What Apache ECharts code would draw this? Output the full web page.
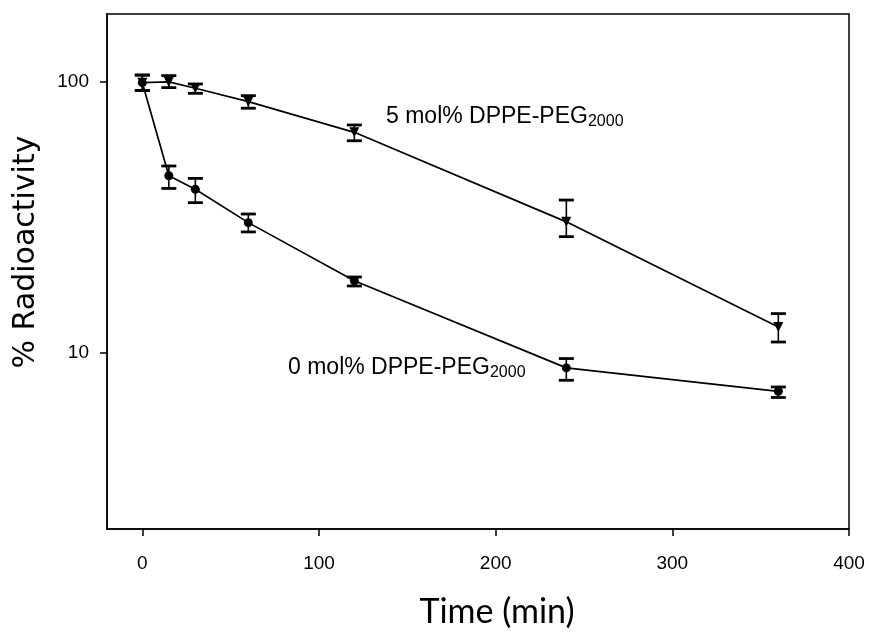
<!DOCTYPE html>
<html>
<head>
<meta charset="utf-8">
<script src="https://cdn.jsdelivr.net/npm/echarts@6/dist/echarts.min.js"></script>
<style>
html,body{margin:0;padding:0;background:#fff;}
#chart{width:869px;height:634px;}
</style>
</head>
<body>
<div id="chart"></div>
<script>
const times = [0, 15, 30, 60, 120, 240, 360];
const peg5Mean = [99.4, 100, 94.8, 84.6, 65.2, 30.5, 12.5];
const peg5Low  = [93, 95.3, 90.8, 80.0, 60.7, 26.9, 11.0];
const peg5High = [106, 105.5, 98.3, 89.0, 69.4, 36.7, 14.0];
const peg0Mean = [99.4, 45.1, 40.2, 30.3, 18.5, 8.83, 7.24];
const peg0Low  = [93, 40.5, 35.9, 28.0, 17.7, 7.95, 6.87];
const peg0High = [106, 49.0, 44.1, 32.6, 19.1, 9.56, 7.51];
const xTicks = [0, 100, 200, 300, 400];
const yTicks = [10, 100];
const label5 = '5 mol% DPPE-PEG';
const label0 = '0 mol% DPPE-PEG';
const subText = '2000';

const chart = echarts.init(document.getElementById('chart'), null, {renderer: 'canvas'});

function pts(mean) { return times.map((t, i) => [t, mean[i]]); }
function bars(lo, hi) { return times.map((t, i) => [t, lo[i], hi[i]]); }

function errRender(params, api) {
  const x = api.value(0);
  const lo = api.coord([x, api.value(1)]);
  const hi = api.coord([x, api.value(2)]);
  const hw = 7.5;
  const st = {stroke: '#000', lineWidth: 1.6};
  const cap = {stroke: '#000', lineWidth: 2.8};
  return {
    type: 'group',
    children: [
      {type: 'line', shape: {x1: lo[0], y1: lo[1], x2: hi[0], y2: hi[1]}, style: st},
      {type: 'line', shape: {x1: lo[0] - hw, y1: lo[1], x2: lo[0] + hw, y2: lo[1]}, style: cap},
      {type: 'line', shape: {x1: hi[0] - hw, y1: hi[1], x2: hi[0] + hw, y2: hi[1]}, style: cap}
    ]
  };
}

const axisFont = {fontFamily: 'Liberation Sans', fontSize: 19, color: '#000'};
const rich = {
  m: {fontFamily: 'Liberation Sans', fontSize: 23, color: '#000'},
  s: {fontFamily: 'Liberation Sans', fontSize: 16, color: '#000', padding: [10, 0, 0, 0]}
};

chart.setOption({
  animation: false,
  backgroundColor: '#fff',
  grid: {left: 107, right: 20, top: 14, bottom: 105, show: true, borderColor: '#000', borderWidth: 1.5, containLabel: false},
  xAxis: {
    type: 'value', min: -20, max: 400,
    axisLine: {show: true, onZero: false, lineStyle: {color: '#000', width: 1.5}},
    axisTick: {show: true, inside: false, length: 7, lineStyle: {color: '#000', width: 1.5}, customValues: xTicks},
    axisLabel: Object.assign({margin: 25, customValues: xTicks}, axisFont),
    splitLine: {show: false}
  },
  yAxis: {
    type: 'log', min: 2.25, max: 178, logBase: 10,
    axisLine: {show: true, onZero: false, lineStyle: {color: '#000', width: 1.5}},
    axisTick: {show: true, inside: false, length: 7, lineStyle: {color: '#000', width: 1.5}, customValues: yTicks},
    axisLabel: Object.assign({margin: 18, customValues: yTicks}, axisFont),
    minorTick: {show: false},
    splitLine: {show: false}
  },
  series: [
    {type: 'line', data: pts(peg0Mean), symbol: 'circle', symbolSize: 9,
      lineStyle: {color: '#000', width: 1.7}, itemStyle: {color: '#000'}, z: 3},
    {type: 'line', data: pts(peg5Mean), symbol: 'triangle', symbolRotate: 180, symbolSize: 10,
      lineStyle: {color: '#000', width: 1.7}, itemStyle: {color: '#000'}, z: 5},
    {type: 'custom', renderItem: errRender, data: bars(peg5Low, peg5High), encode: {x: 0, y: [1, 2]}, z: 4},
    {type: 'custom', renderItem: errRender, data: bars(peg0Low, peg0High), encode: {x: 0, y: [1, 2]}, z: 4}
  ],
  graphic: [
    {type: 'text', left: 386, top: 105, style: {text: '{m|' + label5 + '}{s|' + subText + '}', rich: rich}},
    {type: 'text', left: 288, top: 356, style: {text: '{m|' + label0 + '}{s|' + subText + '}', rich: rich}},
    {type: 'text', x: 497, y: 612, style: {text: 'Time (min)', fontFamily: 'Lato', fontSize: 34, fill: '#000', align: 'center', verticalAlign: 'middle'}},
    {type: 'text', x: 26, y: 252, rotation: Math.PI / 2, style: {text: '% Radioactivity', fontFamily: 'DejaVu Sans', fontSize: 30, fill: '#000', align: 'center', verticalAlign: 'middle'}}
  ]
});
</script>
</body>
</html>
